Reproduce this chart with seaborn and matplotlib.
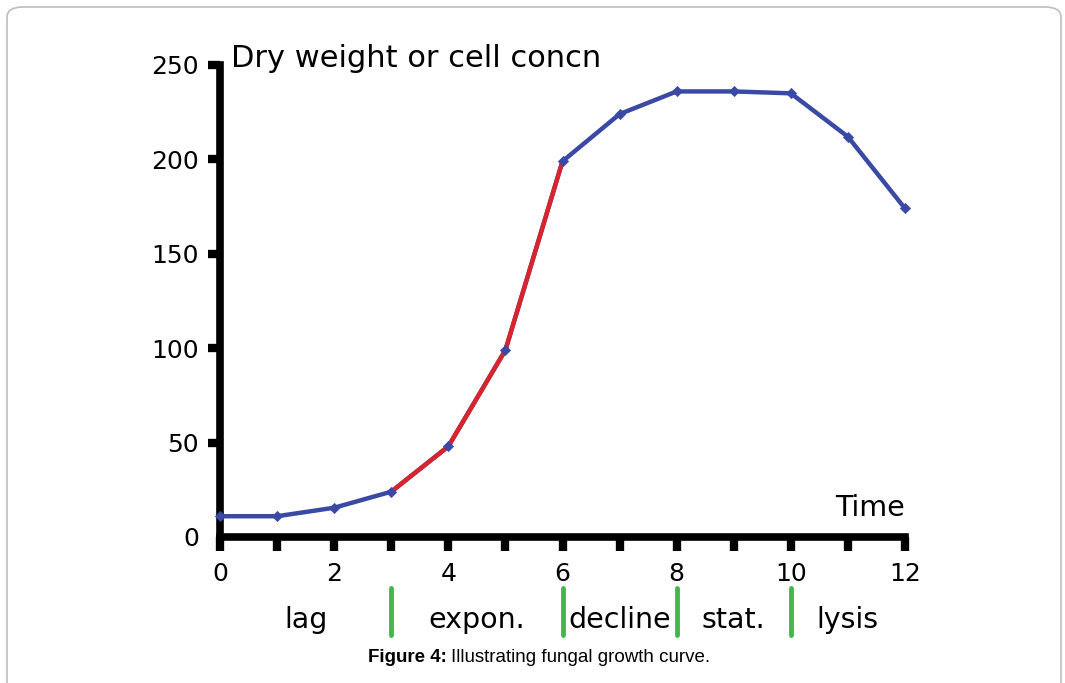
import matplotlib
matplotlib.use('Agg')
import matplotlib.pyplot as plt
import pandas as pd
import seaborn as sns
from matplotlib.patches import FancyBboxPatch

# growth curve readings
time = [0, 1, 2, 3, 4, 5, 6, 7, 8, 9, 10, 11, 12]
weight = [11, 11, 15.5, 24, 48, 99, 199, 224, 236, 236, 235, 212, 174]
# exponential segment drawn in red
expon_start, expon_end = 3, 6

phase_names = ['lag', 'expon.', 'decline', 'stat.', 'lysis']
phase_centers = [1.5, 4.5, 7, 9, 11]
phase_bounds = [3, 6, 8, 10]

x_ticks = [0, 2, 4, 6, 8, 10, 12]
y_ticks = [0, 50, 100, 150, 200, 250]

BLUE = '#3a4aa4'
RED = '#d8242c'
GREEN = '#45b649'

df = pd.DataFrame({'time': time, 'weight': weight})
red = df[(df.time >= expon_start) & (df.time <= expon_end)]

sns.set_style('white')
plt.rcParams['font.family'] = ['DejaVu Sans']
plt.rcParams['text.color'] = 'black'
plt.rcParams['xtick.color'] = 'black'
plt.rcParams['ytick.color'] = 'black'

fig = plt.figure(figsize=(10.65, 6.83), dpi=100)
ax = fig.add_axes([220 / 1065, 1 - 537 / 683, 685 / 1065, 472 / 683])

sns.lineplot(data=df, x='time', y='weight', color=BLUE, lw=3.2, ax=ax)
sns.lineplot(data=red, x='time', y='weight', color=RED, lw=3.2, ax=ax)
sns.scatterplot(data=df, x='time', y='weight', color=BLUE, marker='D', s=28,
                edgecolor=BLUE, zorder=5, ax=ax)
for art in ax.lines + ax.collections:
    art.set_clip_on(False)

ax.set_xlim(0, 12)
ax.set_ylim(0, 250)
ax.set_xlabel('')
ax.set_ylabel('')
for s in ['top', 'right']:
    ax.spines[s].set_visible(False)
for s in ['left', 'bottom']:
    ax.spines[s].set_linewidth(5.5)
    ax.spines[s].set_color('black')
    ax.spines[s].set_capstyle('projecting')

ax.set_xticks(range(13))
ax.set_xticklabels([str(t) if t in x_ticks else '' for t in range(13)])
ax.set_yticks(y_ticks)
ax.tick_params(axis='x', bottom=True, direction='out', length=10, width=6, pad=8,
               labelsize=18, labelcolor='black')
ax.tick_params(axis='y', left=True, direction='out', length=9, width=6, pad=6,
               labelsize=18, labelcolor='black')
ax.yaxis.get_major_ticks()[0].tick1line.set_visible(False)

ax.text(0.2, 246, 'Dry weight or cell concn', fontsize=22, ha='left', va='bottom')
ax.text(12, 8, 'Time', fontsize=20.5, ha='right', va='bottom')

# phase labels and separators below the axis
for b in phase_bounds:
    ax.plot([b, b], [-27, -52], color=GREEN, lw=3.5, clip_on=False)
for name, c in zip(phase_names, phase_centers):
    ax.text(c, -44, name, fontsize=20.5, ha='center', va='center')

# caption: bold label followed by plain text
cap_y = 1 - 658 / 683
t1 = fig.text(368 / 1065, cap_y, 'Figure 4:', ha='left', va='center', fontsize=13.5,
              fontweight='bold', family='Liberation Sans')
fig.canvas.draw()
bb = t1.get_window_extent()
fig.text((bb.x1 + 4) / 1065, cap_y, 'Illustrating fungal growth curve.', ha='left',
         va='center', fontsize=13.5, family='Liberation Sans')

border = FancyBboxPatch((7 / 1065, -0.05), 1054 / 1065, 1 - 7 / 683 + 0.05,
                        boxstyle='round,pad=0,rounding_size=0.015',
                        transform=fig.transFigure, fill=False,
                        edgecolor='#bdbdbd', lw=1.2)
fig.patches.append(border)

fig.savefig('out.png', dpi=100)
